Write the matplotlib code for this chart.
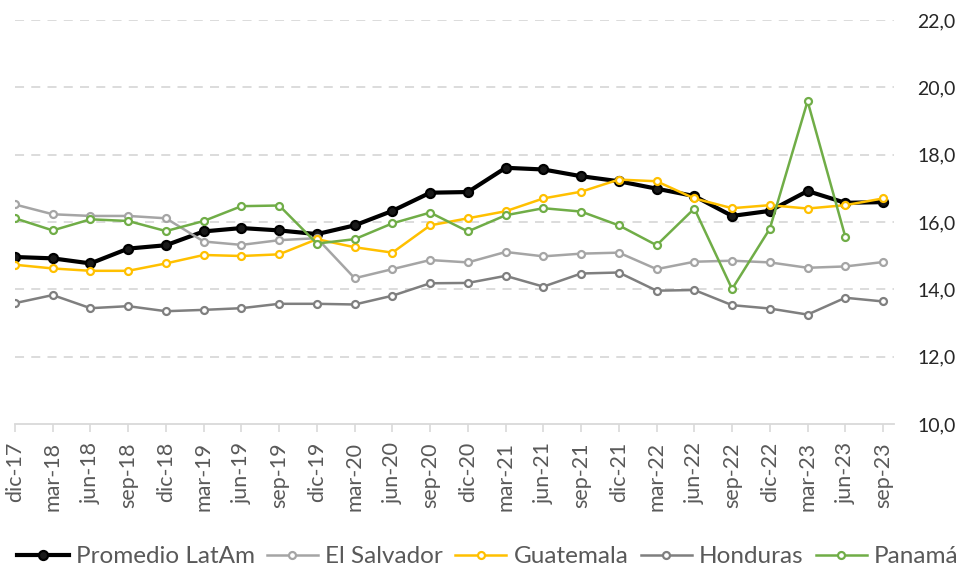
import matplotlib
matplotlib.use("Agg")
import matplotlib.pyplot as plt
import numpy as np

plt.rcParams['font.family'] = ['Lato', 'DejaVu Sans']

categories = ["dic-17", "mar-18", "jun-18", "sep-18", "dic-18", "mar-19", "jun-19", "sep-19",
              "dic-19", "mar-20", "jun-20", "sep-20", "dic-20", "mar-21", "jun-21", "sep-21",
              "dic-21", "mar-22", "jun-22", "sep-22", "dic-22", "mar-23", "jun-23", "sep-23"]

promedio = [14.96, 14.92, 14.77, 15.21, 15.31, 15.72, 15.82, 15.75,
            15.64, 15.90, 16.33, 16.87, 16.89, 17.61, 17.56, 17.36,
            17.21, 16.99, 16.77, 16.18, 16.33, 16.92, 16.57, 16.59]
el_salvador = [16.52, 16.23, 16.18, 16.18, 16.11, 15.42, 15.32, 15.46,
               15.52, 14.33, 14.60, 14.87, 14.80, 15.11, 14.98, 15.06,
               15.09, 14.60, 14.82, 14.85, 14.80, 14.64, 14.68, 14.81]
guatemala = [14.73, 14.62, 14.55, 14.55, 14.77, 15.02, 14.99, 15.04,
             15.49, 15.25, 15.09, 15.90, 16.11, 16.32, 16.70, 16.90,
             17.26, 17.21, 16.70, 16.41, 16.50, 16.40, 16.50, 16.70]
honduras = [13.59, 13.83, 13.44, 13.50, 13.35, 13.39, 13.44, 13.57,
            13.57, 13.55, 13.81, 14.18, 14.19, 14.40, 14.08, 14.47,
            14.50, 13.96, 13.98, 13.53, 13.43, 13.25, 13.75, 13.64]
panama = [16.11, 15.75, 16.08, 16.03, 15.73, 16.03, 16.47, 16.49,
          15.36, 15.49, 15.96, 16.28, 15.72, 16.20, 16.41, 16.31,
          15.90, 15.31, 16.40, 14.01, 15.80, 19.59, 15.56, np.nan]

y_ticks = [10, 12, 14, 16, 18, 20, 22]

fig = plt.figure(figsize=(9.64, 5.75), dpi=100)
ax = fig.add_axes([15/964, 1-424/575, (894-15)/964, (424-20)/575])

x = np.arange(len(categories))

series = [
    ("Promedio LatAm", promedio, "#000000", 3.0, "#1a1a1a", 6.5),
    ("El Salvador", el_salvador, "#A5A5A5", 1.8, "white", 5),
    ("Guatemala", guatemala, "#FFC000", 1.8, "white", 5),
    ("Honduras", honduras, "#7F7F7F", 1.8, "white", 5),
    ("Panamá", panama, "#70AD47", 1.8, "white", 5),
]
handles = []
for name, vals, col, lw, mfc, ms in series:
    h, = ax.plot(x, vals, color=col, lw=lw, marker='o', markersize=ms,
                 markerfacecolor=mfc, markeredgecolor=col, markeredgewidth=1.6,
                 label=name, zorder=3)
    handles.append(h)

ax.set_xlim(0, 23.29)
ax.set_ylim(10, 22)
ax.set_yticks(y_ticks)
ax.set_yticklabels([f"{v:.1f}".replace('.', ',') for v in y_ticks])
ax.yaxis.tick_right()
ax.tick_params(axis='y', length=0, pad=17, labelsize=14, labelcolor='#262626')
for v in y_ticks[1:]:
    ax.axhline(v, color='#D9D9D9', lw=1.3, ls=(0, (5, 4)), zorder=1)

ax.set_xticks(x)
ax.set_xticklabels(categories, rotation=90, fontsize=15.5, color='#595959')
ax.tick_params(axis='x', length=6, width=1.2, color='#D9D9D9', pad=7)

for s in ['top', 'left', 'right']:
    ax.spines[s].set_visible(False)
ax.spines['bottom'].set_color('#D9D9D9')
ax.spines['bottom'].set_linewidth(1.3)

leg = fig.legend(handles=handles, loc='lower left', bbox_to_anchor=(0.003, -0.012), ncol=5,
                 frameon=False, fontsize=17.5, handlelength=2.1, handletextpad=0.3,
                 columnspacing=0.5, borderaxespad=0.2)
for t in leg.get_texts():
    t.set_color('#595959')

fig.savefig("out.png", dpi=100)
